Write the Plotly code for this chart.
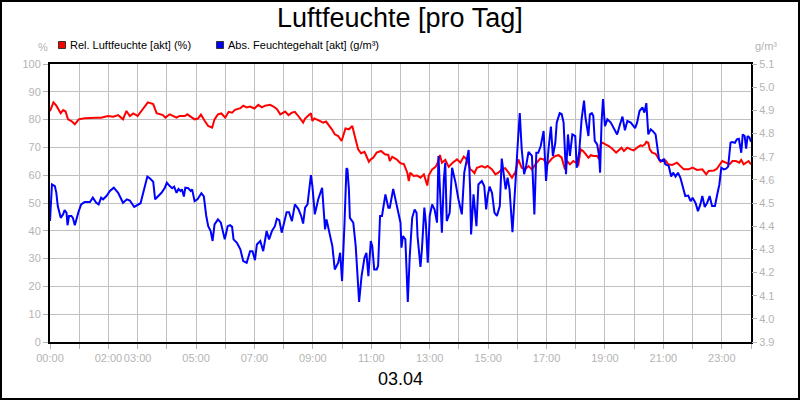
import plotly.graph_objects as go

# ---------------- data ----------------
title_text = "Luftfeuchte [pro Tag]"
date_label = "03.04"
series_names = ["Rel. Luftfeuchte [akt] (%)", "Abs. Feuchtegehalt [akt] (g/m³)"]
hour_labels = {0: "00:00", 2: "02:00", 3: "03:00", 5: "05:00", 7: "07:00", 9: "09:00",
               11: "11:00", 13: "13:00", 15: "15:00", 17: "17:00", 19: "19:00",
               21: "21:00", 23: "23:00"}

# minutes since midnight / relative humidity (%)
rel_min = [0, 7, 13, 22, 27, 32, 37, 44, 51, 59, 71, 85, 95, 105, 119, 130, 140, 150, 157, 164,
           171, 180, 188, 201, 212, 219, 232, 237, 246, 260, 266, 277, 282, 290, 297, 304, 310,
           318, 325, 333, 338, 345, 352, 360, 367, 374, 380, 391, 397, 404, 411, 420, 428, 435,
           442, 452, 459, 466, 473, 483, 490, 497, 503, 510, 520, 524, 529, 536, 539, 543, 551,
           561, 567, 572, 579, 585, 592, 599, 602, 607, 614, 621, 626, 633, 639, 646, 650, 655,
           659, 664, 671, 680, 688, 695, 698, 703, 712, 720, 727, 734, 737, 740, 747, 754, 761,
           768, 775, 778, 785, 792, 796, 801, 805, 812, 819, 826, 836, 843, 850, 857, 863, 867,
           872, 877, 887, 894, 899, 908, 915, 921, 928, 935, 942, 949, 956, 962, 969, 976, 983,
           990, 997, 1000, 1007, 1014, 1021, 1031, 1038, 1045, 1051, 1058, 1062, 1068, 1075,
           1082, 1085, 1090, 1095, 1100, 1106, 1111, 1117, 1124, 1128, 1131, 1135, 1141, 1148,
           1155, 1163, 1169, 1174, 1179, 1186, 1193, 1199, 1206, 1213, 1217, 1222, 1225, 1229,
           1232, 1237, 1244, 1250, 1254, 1259, 1264, 1270, 1278, 1288, 1295, 1302, 1312, 1320,
           1329, 1340, 1348, 1353, 1364, 1370, 1381, 1389, 1396, 1402, 1409, 1416, 1420, 1425,
           1430, 1435, 1440]
rel_val = [83, 86.2, 85, 82.3, 83.4, 82.9, 80.1, 79.5, 78.3, 80.1, 80.5, 80.7, 80.7, 80.7, 81.3,
           81, 81.6, 80.1, 83.1, 81.3, 82.2, 81.3, 83.1, 86.2, 85.6, 82.3, 81.6, 80.7, 81.9, 80.7,
           81.3, 81.3, 81.9, 81, 80.1, 80.4, 81.8, 79.5, 77.7, 77.1, 80.1, 81.9, 82.2, 80.7, 82.8,
           82.5, 83.5, 84.1, 85, 84.4, 84.7, 84, 85.3, 84.4, 85, 85.3, 84.7, 83.8, 81.9, 82.9,
           81.6, 82.5, 82.8, 81.3, 78.9, 80.4, 81.3, 82.3, 79.5, 80.4, 79.8, 78.9, 79.3, 78.3,
           76.5, 74.7, 74.1, 72.3, 74.1, 76.8, 76.5, 77.7, 74.1, 69.3, 67.9, 68.4, 66.9, 64.8,
           65.7, 66.3, 68.1, 68.7, 67.5, 67.3, 65.1, 66.6, 65.7, 64.3, 64.0, 60.9, 57.9, 60.9,
           59.7, 59.9, 59.1, 60.3, 56.3, 59.9, 62.1, 63, 64.3, 67.3, 64.5, 65.5, 63, 64.3, 65.7,
           64.5, 66.7, 65.5, 62.1, 61.7, 60.7, 62.7, 63.3, 62.7, 63.3, 62.1, 60.3, 60.9, 62.1,
           62.5, 60.9, 59.1, 61.1, 65.7, 62.7, 62.1, 63.3, 62.1, 63.9, 64.5, 66, 65.7, 63.9, 66,
           66.9, 67.2, 66.3, 62.1, 65.1, 63.9, 65.1, 64.3, 63.3, 69.3, 68.7, 67.7, 66.3, 67.2,
           66.9, 66.9, 65.7, 71.1, 71.7, 71.1, 70.5, 69.5, 68.1, 69.1, 69.9, 68.7, 69.9, 69.3,
           68.9, 69.9, 70.7, 70.5, 71.1, 72, 71.7, 69.3, 68.1, 67.7, 65.7, 64.8, 65.5, 65.4, 63.9,
           63.7, 64.5, 63.3, 62.1, 62.1, 62.7, 61.9, 62.1, 60.3, 61.5, 61.7, 62.3, 65.1, 64.5,
           63.9, 65.1, 65.1, 64.5, 65.5, 63.9, 64.5, 65.1, 63.9]

# minutes since midnight / absolute humidity (g/m³)
abs_min = [0, 4, 10, 13, 16, 22, 27, 30, 34, 36, 39, 44, 47, 51, 58, 64, 71, 82, 88, 95, 100,
           105, 109, 116, 123, 131, 140, 150, 158, 164, 173, 181, 186, 195, 200, 205, 212, 216,
           222, 229, 236, 240, 246, 251, 255, 260, 264, 268, 271, 275, 278, 284, 289, 292, 297,
           303, 311, 316, 321, 325, 330, 334, 338, 345, 351, 354, 359, 365, 370, 374, 377, 384,
           391, 397, 404, 411, 416, 421, 425, 432, 438, 445, 450, 456, 462, 466, 471, 476, 482,
           486, 491, 497, 503, 510, 516, 520, 524, 529, 536, 539, 544, 551, 559, 565, 568, 575,
           580, 585, 592, 596, 600, 605, 609, 611, 614, 616, 623, 628, 633, 635, 640, 646, 650,
           654, 659, 662, 666, 671, 674, 678, 682, 689, 695, 698, 705, 712, 717, 720, 722, 725,
           730, 735, 739, 744, 749, 753, 755, 761, 764, 769, 772, 776, 780, 785, 790, 795, 798,
           802, 805, 809, 812, 815, 821, 826, 833, 839, 846, 851, 855, 860, 863, 865, 870, 876,
           880, 887, 892, 896, 899, 903, 908, 913, 918, 924, 928, 933, 936, 940, 944, 950, 956,
           961, 965, 969, 974, 978, 983, 990, 995, 999, 1003, 1008, 1014, 1019, 1024, 1029, 1033,
           1038, 1041, 1047, 1051, 1055, 1060, 1064, 1068, 1073, 1079, 1082, 1087, 1092, 1097,
           1100, 1106, 1109, 1113, 1116, 1119, 1124, 1128, 1130, 1133, 1136, 1140, 1145, 1152,
           1158, 1165, 1171, 1176, 1181, 1186, 1193, 1197, 1202, 1206, 1211, 1217, 1221, 1225,
           1229, 1234, 1238, 1244, 1251, 1256, 1261, 1264, 1271, 1276, 1280, 1285, 1290, 1295,
           1300, 1305, 1311, 1316, 1320, 1326, 1331, 1336, 1340, 1345, 1350, 1355, 1360, 1366,
           1370, 1375, 1379, 1384, 1389, 1393, 1398, 1401, 1407, 1411, 1415, 1420, 1423, 1427,
           1430, 1433, 1437, 1440]
abs_val = [4.422, 4.580, 4.573, 4.544, 4.487, 4.436, 4.451, 4.470, 4.458, 4.404, 4.444, 4.444,
           4.436, 4.404, 4.458, 4.494, 4.504, 4.504, 4.523, 4.501, 4.494, 4.523, 4.516, 4.530,
           4.552, 4.566, 4.544, 4.501, 4.516, 4.511, 4.483, 4.494, 4.499, 4.573, 4.614, 4.607,
           4.592, 4.516, 4.530, 4.544, 4.566, 4.588, 4.573, 4.564, 4.571, 4.544, 4.561, 4.552,
           4.559, 4.528, 4.566, 4.564, 4.552, 4.559, 4.508, 4.516, 4.542, 4.528, 4.444, 4.400,
           4.379, 4.336, 4.408, 4.429, 4.415, 4.386, 4.343, 4.400, 4.404, 4.397, 4.343, 4.328,
           4.300, 4.249, 4.242, 4.292, 4.292, 4.253, 4.321, 4.336, 4.292, 4.379, 4.343, 4.379,
           4.400, 4.432, 4.426, 4.372, 4.422, 4.460, 4.460, 4.422, 4.494, 4.475, 4.444, 4.411,
           4.480, 4.494, 4.620, 4.573, 4.451, 4.516, 4.566, 4.386, 4.429, 4.357, 4.314, 4.213,
           4.242, 4.285, 4.163, 4.415, 4.650, 4.645, 4.559, 4.436, 4.415, 4.314, 4.156, 4.073,
           4.184, 4.264, 4.285, 4.184, 4.336, 4.314, 4.213, 4.213, 4.228, 4.444, 4.444, 4.537,
           4.480, 4.480, 4.561, 4.494, 4.444, 4.415, 4.307, 4.357, 4.343, 4.073, 4.271, 4.436,
           4.472, 4.458, 4.357, 4.224, 4.300, 4.480, 4.415, 4.242, 4.444, 4.494, 4.472, 4.415,
           4.703, 4.516, 4.372, 4.602, 4.674, 4.422, 4.458, 4.652, 4.588, 4.516, 4.451, 4.631,
           4.681, 4.729, 4.561, 4.364, 4.537, 4.400, 4.580, 4.595, 4.573, 4.472, 4.530, 4.571,
           4.544, 4.458, 4.444, 4.487, 4.692, 4.616, 4.559, 4.609, 4.559, 4.374, 4.559, 4.760,
           4.888, 4.732, 4.624, 4.660, 4.721, 4.703, 4.451, 4.717, 4.717, 4.746, 4.811, 4.595,
           4.732, 4.830, 4.703, 4.760, 4.848, 4.888, 4.884, 4.848, 4.624, 4.796, 4.703, 4.796,
           4.789, 4.652, 4.717, 4.861, 4.942, 4.868, 4.789, 4.883, 4.888, 4.876, 4.768, 4.753,
           4.703, 4.631, 4.847, 4.949, 4.832, 4.861, 4.847, 4.825, 4.796, 4.840, 4.873, 4.814,
           4.854, 4.847, 4.837, 4.823, 4.847, 4.897, 4.913, 4.890, 4.931, 4.796, 4.818, 4.811,
           4.796, 4.688, 4.681, 4.688, 4.667, 4.660, 4.614, 4.631, 4.614, 4.631, 4.609, 4.566,
           4.530, 4.532, 4.508, 4.523, 4.501, 4.465, 4.494, 4.530, 4.483, 4.501, 4.530, 4.487,
           4.487, 4.530, 4.580, 4.652, 4.645, 4.648, 4.657, 4.760, 4.763, 4.760, 4.775, 4.777,
           4.717, 4.796, 4.789, 4.735, 4.789, 4.782, 4.764]

# ---------------- layout geometry ----------------
W, H = 800, 400
ML, MR, MT, MB = 50, 49, 64, 58
PW, PH = W - ML - MR, H - MT - MB


def px(x):
    return (x - ML) / PW


def py(y):
    return (H - MB - y) / PH


FONT = "Liberation Sans, Arial, sans-serif"
GRAY = "#b4b4b4"
RED = "#ff0000"
BLUE = "#0000ff"

fig = go.Figure()
fig.add_trace(go.Scatter(x=rel_min, y=rel_val, mode="lines", name=series_names[0],
                         line=dict(color=RED, width=2), showlegend=False, yaxis="y"))
fig.add_trace(go.Scatter(x=abs_min, y=abs_val, mode="lines", name=series_names[1],
                         line=dict(color=BLUE, width=2), showlegend=False, yaxis="y2"))

tickvals = list(range(0, 24 * 60 + 1, 60))
ticktext = [hour_labels.get(v // 60, "") for v in tickvals]

fig.update_layout(
    width=W, height=H,
    margin=dict(l=ML, r=MR, t=MT, b=MB, pad=0),
    paper_bgcolor="white", plot_bgcolor="white",
    font=dict(family=FONT, size=11, color=GRAY),
    xaxis=dict(range=[0, 1440], tickmode="array", tickvals=tickvals, ticktext=ticktext,
               tickangle=0,
               showgrid=True, gridcolor="#c0c0c0", gridwidth=1,
               showline=True, linecolor="black", linewidth=2, mirror=True,
               ticks="outside", ticklen=5, tickcolor=GRAY, tickfont=dict(size=11, color=GRAY),
               zeroline=False, fixedrange=True),
    yaxis=dict(range=[0, 100], dtick=10, tick0=0, showgrid=True, gridcolor="#c0c0c0",
               gridwidth=1, showline=True, linecolor="black", linewidth=2, mirror=True,
               ticks="outside", ticklen=5, tickcolor=GRAY, tickfont=dict(size=11, color=GRAY),
               zeroline=False, fixedrange=True),
    yaxis2=dict(range=[3.9, 5.1], dtick=0.1, tick0=3.9, tickformat=".1f", overlaying="y",
                side="right", showgrid=False, showline=False, ticks="outside", ticklen=5,
                tickcolor=GRAY, tickfont=dict(size=11, color=GRAY), zeroline=False,
                fixedrange=True),
)

annotations = [
    dict(text=title_text, x=px(400), y=py(18), xref="paper", yref="paper", showarrow=False,
         xanchor="center", yanchor="middle", font=dict(family=FONT, size=27, color="black")),
    dict(text=date_label, x=px(400), y=py(379), xref="paper", yref="paper", showarrow=False,
         xanchor="center", yanchor="middle", font=dict(family=FONT, size=18, color="black")),
    dict(text="%", x=px(43), y=py(47), xref="paper", yref="paper", showarrow=False,
         xanchor="center", yanchor="middle", font=dict(family=FONT, size=11, color=GRAY)),
    dict(text="g/m³", x=px(766), y=py(46), xref="paper", yref="paper", showarrow=False,
         xanchor="center", yanchor="middle", font=dict(family=FONT, size=11, color=GRAY)),
    dict(text=series_names[0], x=px(68), y=py(45), xref="paper", yref="paper", showarrow=False,
         xanchor="left", yanchor="middle", font=dict(family=FONT, size=11, color="black")),
    dict(text=series_names[1], x=px(226), y=py(45), xref="paper", yref="paper", showarrow=False,
         xanchor="left", yanchor="middle", font=dict(family=FONT, size=11, color="black")),
]
fig.update_layout(annotations=annotations)

shapes = [
    # outer frame
    dict(type="rect", xref="paper", yref="paper", x0=px(1), x1=px(799), y0=py(399), y1=py(1),
         line=dict(color="black", width=2), fillcolor="rgba(0,0,0,0)", layer="above"),
    # legend swatches
    dict(type="rect", xref="paper", yref="paper", x0=px(58.5), x1=px(65.5), y0=py(48.5),
         y1=py(41.5), line=dict(color="#333333", width=1), fillcolor=RED),
    dict(type="rect", xref="paper", yref="paper", x0=px(216.5), x1=px(223.5), y0=py(48.5),
         y1=py(41.5), line=dict(color="#333333", width=1), fillcolor=BLUE),
]
fig.update_layout(shapes=shapes)

fig.write_html("out.html")
